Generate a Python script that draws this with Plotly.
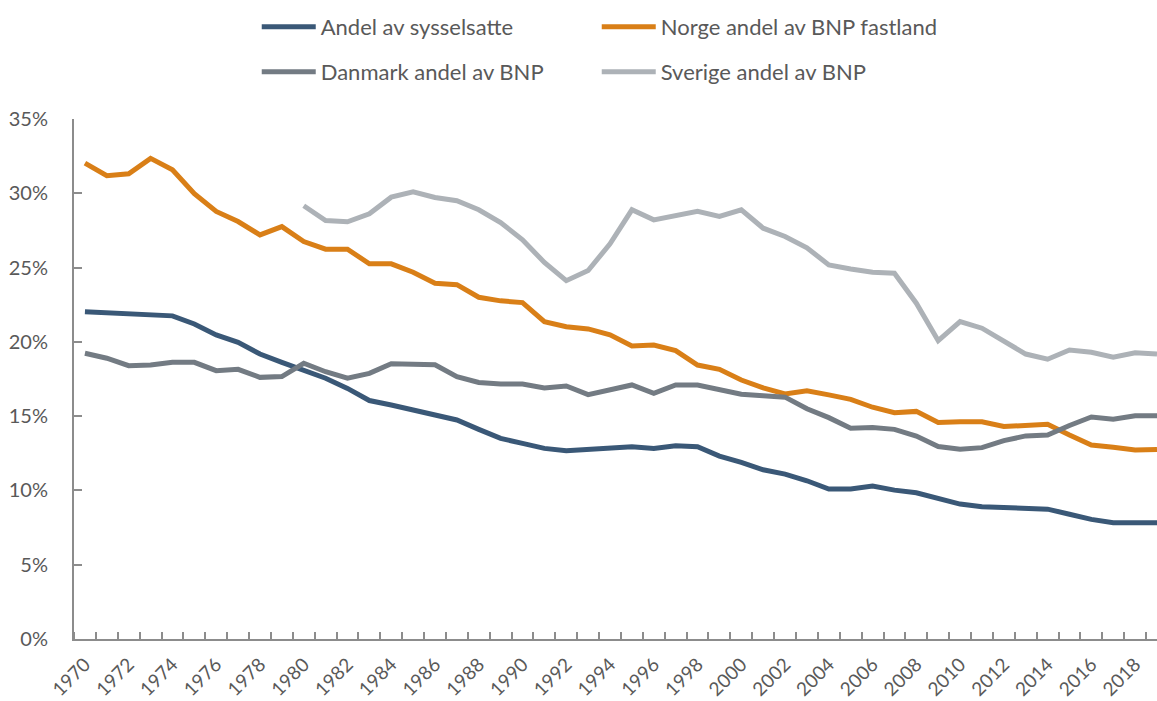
import plotly.graph_objects as go

years = list(range(1970, 2020))

sysselsatte = [22.03, 21.97, 21.93, 21.86, 21.75, 21.2, 20.47, 19.97, 19.18, 18.62,
               18.06, 17.55, 16.87, 16.05, 15.75, 15.41, 15.01, 14.74, 14.11, 13.5,
               13.17, 12.83, 12.67, 12.76, 12.87, 12.94, 12.83, 13.01, 12.94, 12.31,
               11.89, 11.39, 11.1, 10.65, 10.09, 10.09, 10.29, 10.02, 9.84, 9.46,
               9.08, 8.9, 8.85, 8.83, 8.74, 8.4, 8.05, 7.82, 7.78, 7.82]

norge = [32.03, 31.18, 31.31, 32.35, 31.58, 29.97, 28.78, 28.1, 27.2, 27.76,
         26.75, 26.24, 26.24, 25.25, 25.25, 24.69, 23.95, 23.85, 23.0, 22.76,
         22.64, 21.36, 21.02, 20.87, 20.47, 19.72, 19.79, 19.41, 18.44, 18.15,
         17.43, 16.9, 16.5, 16.71, 16.43, 16.13, 15.6, 15.23, 15.32, 14.58,
         14.62, 14.62, 14.3, 14.36, 14.46, 13.73, 13.05, 12.9, 12.72, 12.76]

danmark = [19.23, 18.9, 18.4, 18.44, 18.62, 18.62, 18.06, 18.15, 17.61, 17.66,
           18.56, 17.99, 17.55, 17.88, 18.53, 18.53, 18.46, 17.66, 17.27, 17.16,
           17.16, 16.9, 17.03, 16.45, 16.75, 17.1, 16.54, 17.1, 17.1, 16.8,
           16.48, 16.37, 16.28, 15.5, 14.9, 14.18, 14.23, 14.11, 13.66, 12.95,
           12.77, 12.88, 13.35, 13.67, 13.73, 14.37, 14.94, 14.79, 15.03, 15.03]

sverige = [None] * 10 + [
    29.16, 28.17, 28.08, 28.62, 29.74, 30.1, 29.72, 29.5, 28.89, 28.03,
    26.87, 25.34, 24.12, 24.8, 26.6, 28.89, 28.21, 28.5, 28.78, 28.44,
    28.89, 27.65, 27.09, 26.33, 25.18, 24.91, 24.69, 24.62, 22.6, 20.08,
    21.36, 20.92, 20.01, 19.18, 18.83, 19.45, 19.3, 18.96, 19.27, 19.18]

series_names = ["Andel av sysselsatte", "Norge andel av BNP fastland",
                "Danmark andel av BNP", "Sverige andel av BNP"]
series_values = [sysselsatte, norge, danmark, sverige]
colors = ["#3A5877", "#D97F17", "#737B83", "#ADB2B7"]
legend_ids = ["legend", "legend", "legend2", "legend2"]

y_ticks = [0, 5, 10, 15, 20, 25, 30, 35]
x_label_years = list(range(1970, 2020, 2))

fig = go.Figure()
for name, vals, col, lg in zip(series_names, series_values, colors, legend_ids):
    fig.add_trace(go.Scatter(x=years, y=vals, name=name, mode="lines",
                             line=dict(color=col, width=5),
                             connectgaps=False, legend=lg, hoverinfo="skip"))

FONT = "Lato"
axis_col = "#8C8C8C"
text_col = "#595959"

leg_common = dict(orientation="h", xanchor="left", yanchor="middle",
                  xref="container", yref="container",
                  font=dict(family=FONT, size=22, color=text_col),
                  entrywidth=271, entrywidthmode="pixels",
                  itemwidth=54, bgcolor="rgba(0,0,0,0)", borderwidth=0,
                  tracegroupgap=0, itemclick=False, itemdoubleclick=False)

fig.update_layout(
    width=1157, height=701,
    margin=dict(l=74, r=0, t=119, b=62, pad=0),
    paper_bgcolor="white", plot_bgcolor="white",
    font=dict(family=FONT, color=text_col),
    showlegend=True,
    legend=dict(x=0.2219, y=0.9615, **leg_common),
    legend2=dict(x=0.2219, y=0.8973, **leg_common),
    xaxis=dict(
        range=[1969.5, 2019.0], automargin=False,
        tickmode="array", tickvals=x_label_years,
        ticktext=[str(y) for y in x_label_years],
        tickangle=-45, ticks="",
        tickfont=dict(family=FONT, size=19, color=text_col),
        ticklabelstandoff=5,
        showline=True, linecolor=axis_col, linewidth=2,
        showgrid=False, zeroline=False,
        minor=dict(tickmode="array",
                   tickvals=[y + 0.5 for y in range(1969, 2019)],
                   ticks="inside", ticklen=7, tickwidth=2, tickcolor=axis_col,
                   showgrid=False),
    ),
    yaxis=dict(
        range=[0, 35], automargin=False,
        tickmode="array", tickvals=y_ticks,
        ticktext=[f"{v}%" for v in y_ticks],
        ticks="inside", ticklen=8, tickwidth=2, tickcolor=axis_col,
        tickfont=dict(family=FONT, size=20, color=text_col),
        ticklabelstandoff=20,
        showline=True, linecolor=axis_col, linewidth=2,
        showgrid=False, zeroline=False,
    ),
)

fig.write_html("out.html",
               config={"displayModeBar": False},
               post_script="document.body.style.margin='0';"
                           "document.body.style.overflow='hidden';")
